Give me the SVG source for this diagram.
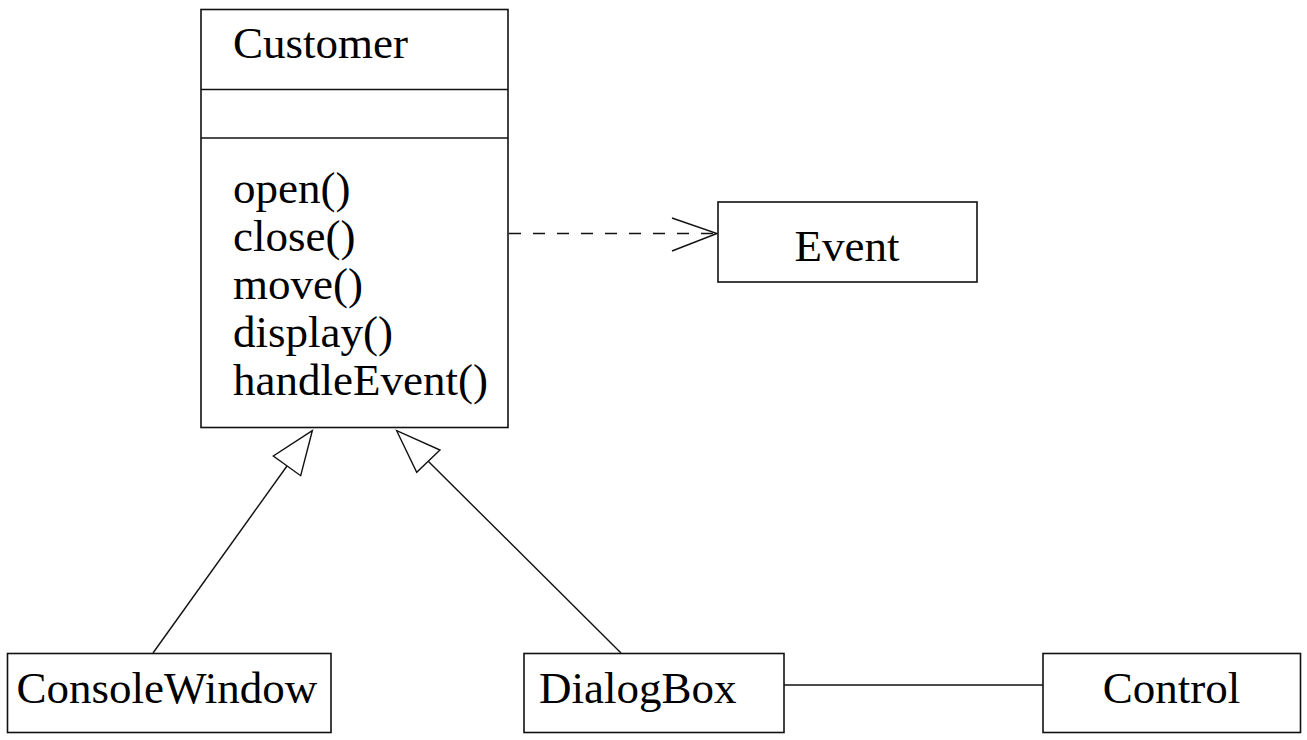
<svg xmlns="http://www.w3.org/2000/svg" width="1307" height="740" viewBox="0 0 1307 740">
  <style>
    .box { fill: #fff; stroke: #111; stroke-width: 1.6; }
    .rule { stroke: #111; stroke-width: 1.6; }
    .edge { fill: none; stroke: #111; stroke-width: 1.4; }
    .dash { stroke-dasharray: 12 12; }
    .head { fill: #fff; stroke: #111; stroke-width: 1.4; }
    text { font-family: "Liberation Serif", "Times New Roman", serif; font-size: 45px; fill: #000; }
  </style>
  <rect width="1307" height="740" fill="#fff"/>

  <!-- connectors -->
  <g id="connectors">
    <!-- dependency: Customer to Event -->
    <line class="edge dash" x1="509" y1="233.5" x2="716" y2="233.5"/>
    <polyline class="edge" points="672,218 717,233.5 672,251"/>
    <!-- generalization: ConsoleWindow to Customer -->
    <line class="edge" x1="153" y1="653" x2="287" y2="466"/>
    <polygon class="head" points="312.3,430.7 273.3,456 300.7,475.7"/>
    <!-- generalization: DialogBox to Customer -->
    <line class="edge" x1="621" y1="653" x2="428.5" y2="461.5"/>
    <polygon class="head" points="396.7,430.7 416.7,472.3 440,450"/>
    <!-- association: DialogBox to Control -->
    <line class="edge" x1="784" y1="685" x2="1043" y2="685"/>
  </g>

  <!-- class Customer -->
  <g id="customer">
    <rect class="box" x="201" y="9.5" width="307" height="418"/>
    <line class="rule" x1="201" y1="89.5" x2="508" y2="89.5"/>
    <line class="rule" x1="201" y1="138" x2="508" y2="138"/>
    <text x="233" y="58">Customer</text>
    <text x="233" y="203">open()</text>
    <text x="233" y="250.5">close()</text>
    <text x="233" y="298.5">move()</text>
    <text x="233" y="347">display()</text>
    <text x="233" y="395">handleEvent()</text>
  </g>

  <!-- class Event -->
  <g id="event">
    <rect class="box" x="718" y="202" width="259" height="80"/>
    <text x="847" y="260.5" text-anchor="middle">Event</text>
  </g>

  <!-- class ConsoleWindow -->
  <g id="consolewindow">
    <rect class="box" x="7.5" y="653.5" width="323.5" height="79"/>
    <text x="16.5" y="702.5">ConsoleWindow</text>
  </g>

  <!-- class DialogBox -->
  <g id="dialogbox">
    <rect class="box" x="524" y="653.5" width="260" height="79"/>
    <text x="539" y="702.5">DialogBox</text>
  </g>

  <!-- class Control -->
  <g id="control">
    <rect class="box" x="1043" y="653.5" width="257.5" height="79"/>
    <text x="1171.5" y="702.5" text-anchor="middle">Control</text>
  </g>
</svg>
